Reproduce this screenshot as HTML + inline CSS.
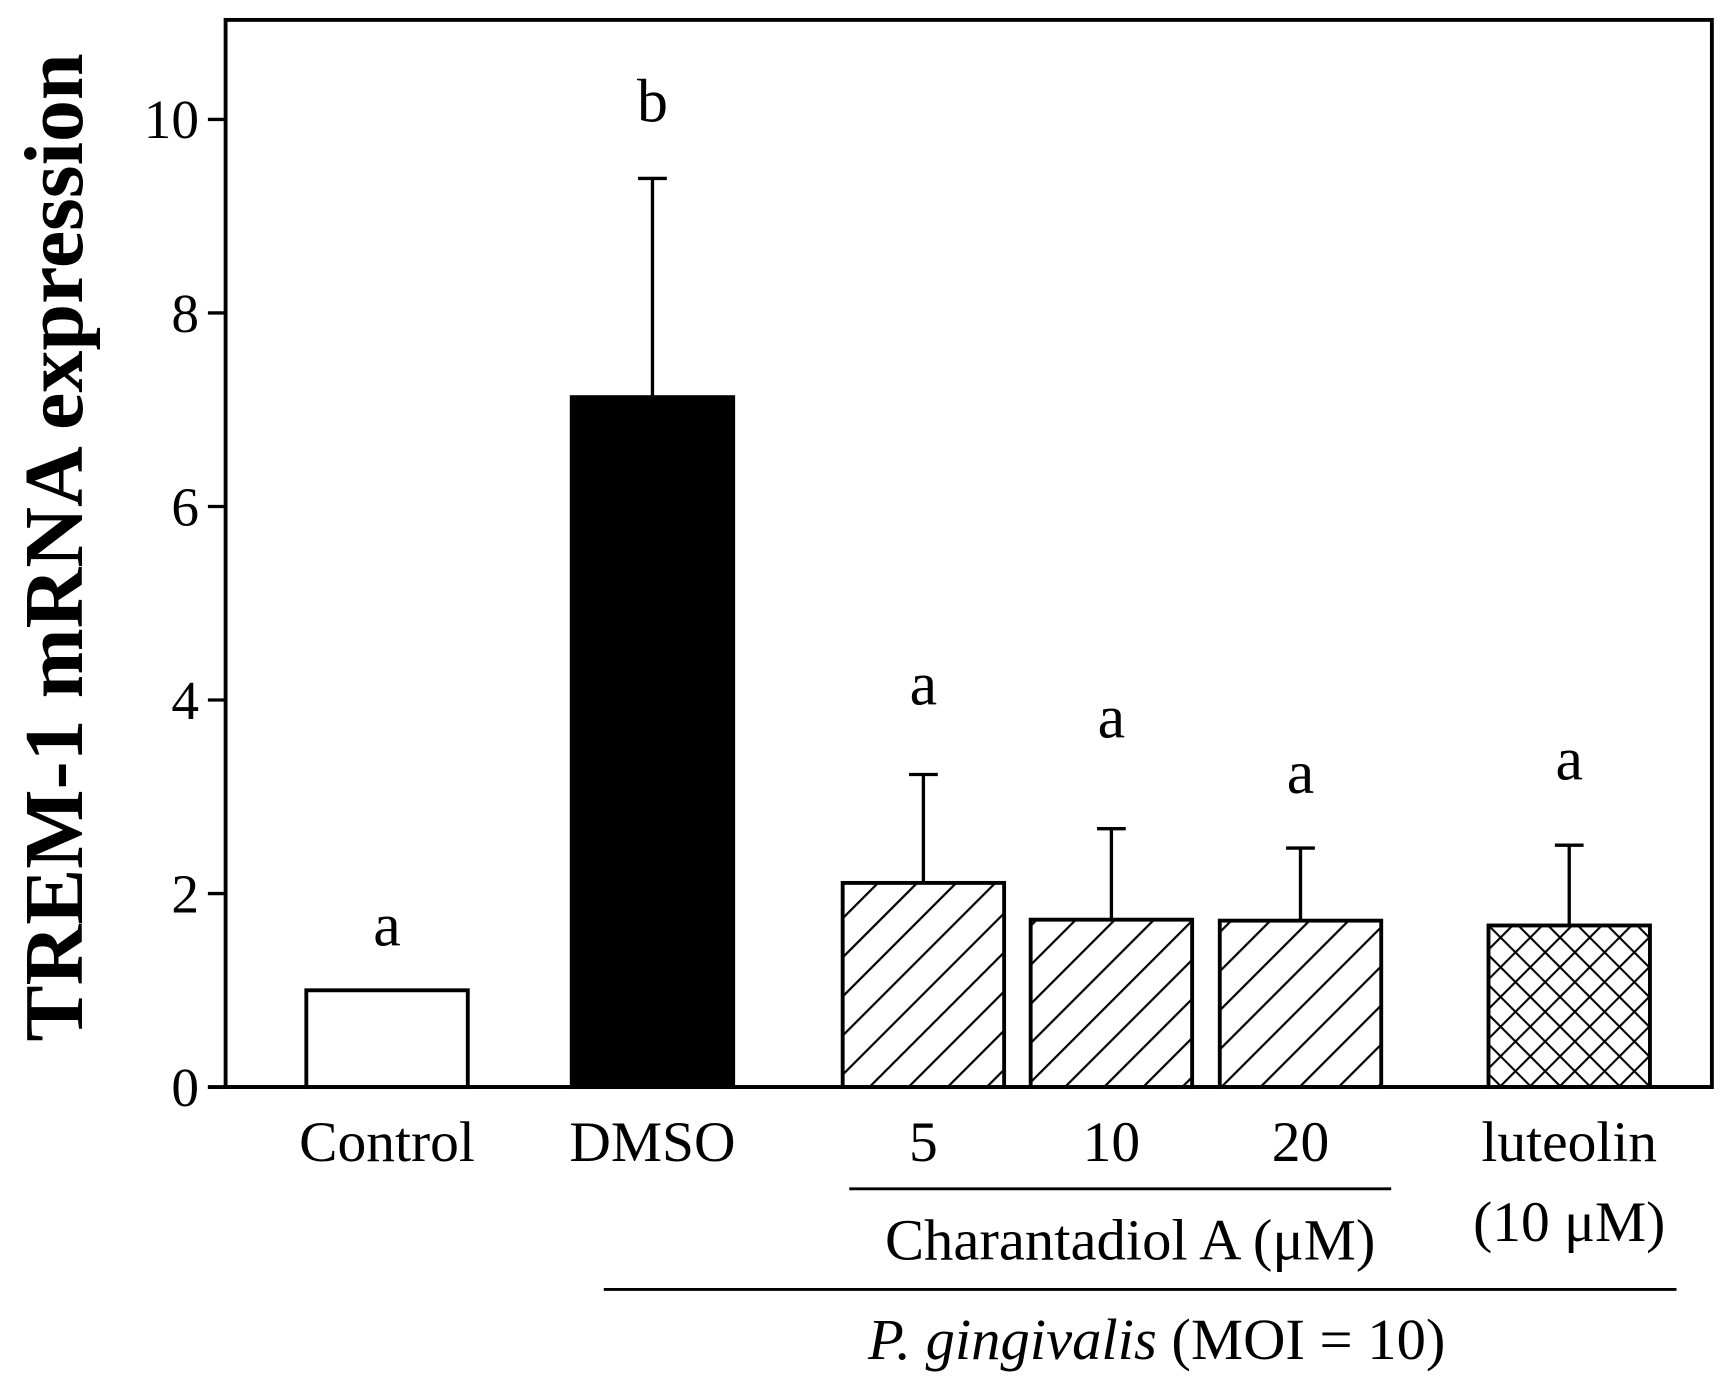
<!DOCTYPE html>
<html><head><meta charset="utf-8"><style>
html,body{margin:0;padding:0;background:#fff;}
svg{display:block;font-family:"Liberation Serif",serif;}
</style></head><body>
<svg id="chart" width="1734" height="1383" viewBox="0 0 1568 1250.6" preserveAspectRatio="none" xmlns="http://www.w3.org/2000/svg">
<defs>
<pattern id="diag" patternUnits="userSpaceOnUse" width="25" height="25" patternTransform="rotate(45)">
<rect width="25" height="25" fill="#fff"/><line x1="0" y1="0" x2="0" y2="25" stroke="#000" stroke-width="4"/></pattern>
<pattern id="cross" patternUnits="userSpaceOnUse" width="19" height="19" patternTransform="rotate(45)">
<rect width="19" height="19" fill="#fff"/><line x1="0" y1="0" x2="0" y2="19" stroke="#000" stroke-width="3.8"/><line x1="0" y1="0" x2="19" y2="0" stroke="#000" stroke-width="3.8"/></pattern>
</defs>
<g id="plot"></g>
</svg>
<script>
const categories=["Control","DMSO","5","10","20","luteolin"];
const values=[1.0,7.13,2.11,1.73,1.72,1.67];
const errors=[0,2.26,1.12,0.94,0.75,0.83];
const letters=["a","b","a","a","a","a"];
const tickLabels=[0,2,4,6,8,10];

const NS="http://www.w3.org/2000/svg";
const g=document.getElementById('plot');
const y0=983, yPer=87.5;
const yScale=v=>y0-v*yPer;
const barLeft=[277,517,762,932,1103,1346], barW=146;
const fills=["#fff","#000","url(#diag)","url(#diag)","url(#diag)","url(#cross)"];
const letterY=[855,110,637,667,717,705];
function mk(tag,attrs,text){const e=document.createElementNS(NS,tag);for(const k in attrs)e.setAttribute(k,attrs[k]);if(text!==undefined)e.textContent=text;g.appendChild(e);return e;}

let f=mk('rect',{x:204,y:18,width:1344,height:965,fill:'none',stroke:'#000','stroke-width':3.5});



tickLabels.forEach(t=>{
 let l=mk('line',{x1:188,x2:204,y1:yScale(t),y2:yScale(t),stroke:'#000','stroke-width':3});
 
 
 let tx=mk('text',{x:180,y:yScale(t)+17,'text-anchor':'end','font-size':50},String(t));
 
 
});

categories.forEach((c,i)=>{
 const x=barLeft[i], cx=x+barW/2, top=yScale(values[i]);
 if(errors[i]>0){
  const et=yScale(values[i]+errors[i]);
  let e=mk('path',{d:`M${cx},${top} V${et} M${cx-13},${et} H${cx+13}`,stroke:'#000','stroke-width':3,fill:'none'});
  
  
 }
 let r=mk('rect',{x:x,y:top,width:barW,height:y0-top,fill:fills[i],stroke:'#000','stroke-width':3.5});
 
 
 let lt=mk('text',{x:cx,y:letterY[i],'text-anchor':'middle','font-size':56},letters[i]);
 
 
 let xl=mk('text',{x:cx,y:1050,'text-anchor':'middle','font-size':52},c);
 
 
});

let ax=mk('line',{x1:188,x2:1548,y1:y0,y2:y0,stroke:'#000','stroke-width':3.5});



let yt=mk('text',{x:0,y:0,'text-anchor':'middle','font-size':76,'font-weight':'bold',transform:'translate(74,495) rotate(-90)'},'TREM-1 mRNA expression');



let lu=mk('text',{x:1419,y:1122,'text-anchor':'middle','font-size':52},'(10 μM)');



let l1=mk('line',{x1:768,x2:1258,y1:1075,y2:1075,stroke:'#000','stroke-width':2.5});


let t1=mk('text',{x:1022,y:1139,'text-anchor':'middle','font-size':53},'Charantadiol A (μM)');



let l2=mk('line',{x1:546,x2:1516,y1:1166,y2:1166,stroke:'#000','stroke-width':2.5});


let t2=mk('text',{x:1046,y:1229,'text-anchor':'middle','font-size':53});


const ts=document.createElementNS(NS,'tspan');ts.setAttribute('font-style','italic');ts.textContent='P. gingivalis';t2.appendChild(ts);
t2.appendChild(document.createTextNode(' (MOI = 10)'));
</script>
</body></html>
